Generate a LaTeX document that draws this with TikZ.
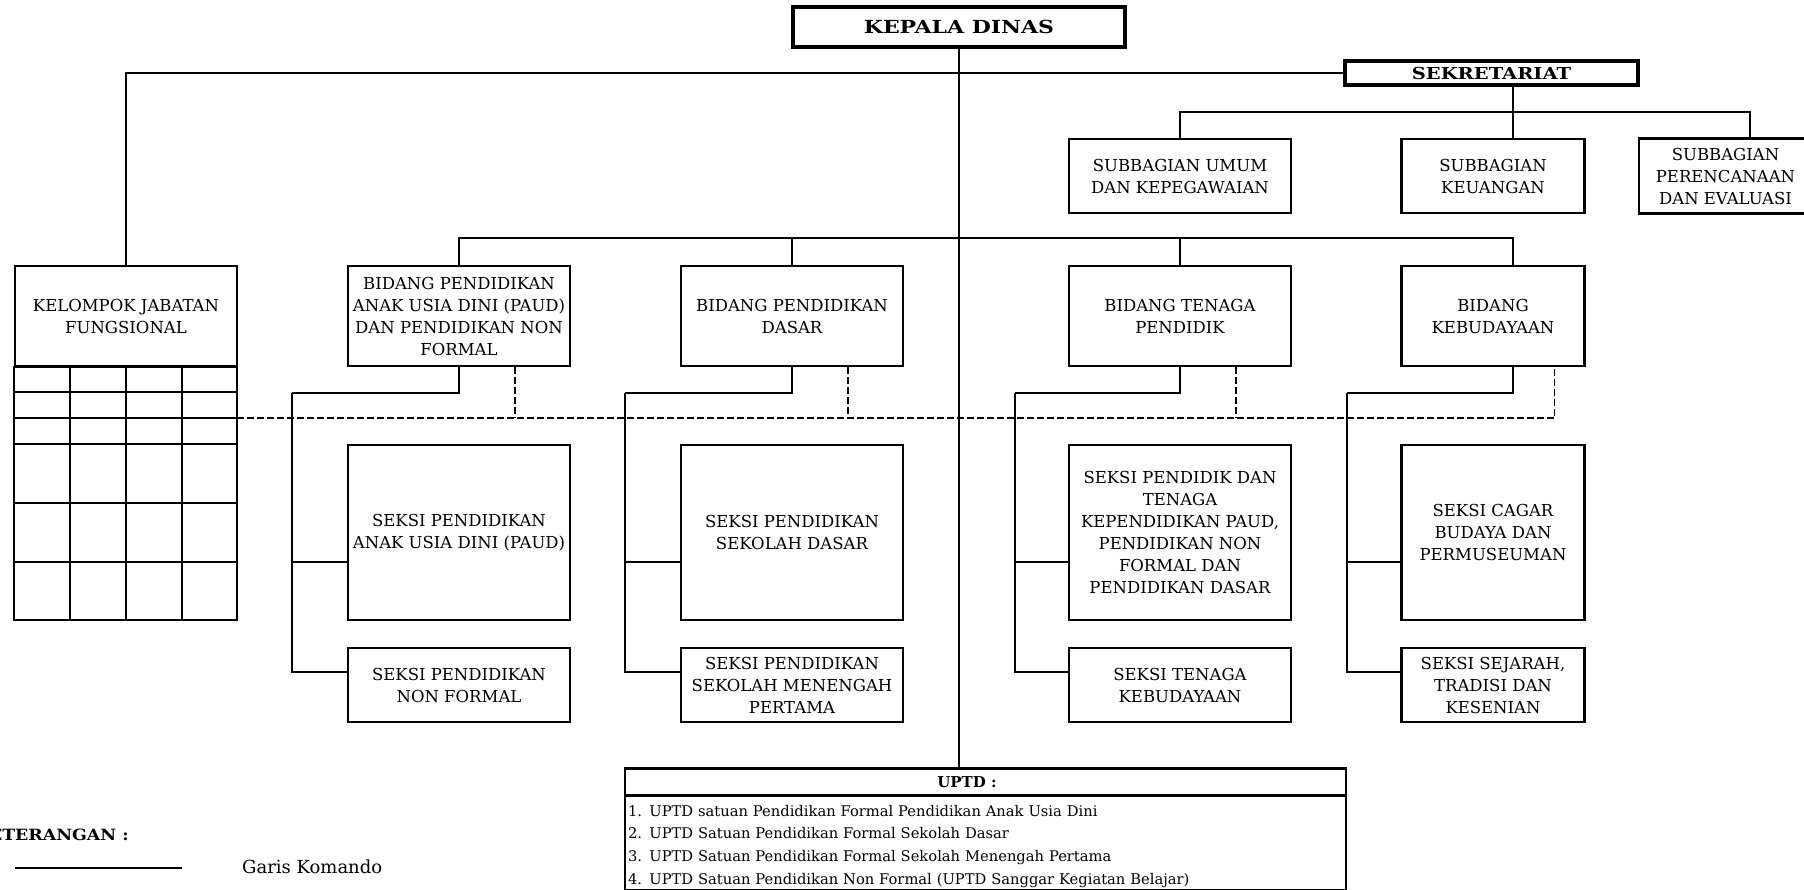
\documentclass[tikz,border=0pt]{standalone}
\usepackage{fontspec}
\setmainfont{DejaVu Serif}
\usepackage{graphicx}

\begin{document}
\begin{tikzpicture}[x=1pt, y=-1pt,
    unit/.style={draw, line width=2.2pt, align=center, inner sep=2pt, font=\fontsize{16.5}{22}\selectfont},
    head/.style={draw, line width=3.6pt, align=center, inner sep=0pt, font=\bfseries},
    link/.style={line width=2.2pt},
    staff/.style={line width=1.7pt, dash pattern=on 7pt off 3pt}]
    \useasboundingbox[fill=white] (0,0) rectangle (1804,890);

    \node[head, minimum width=332pt, minimum height=40pt, font=\fontsize{18}{20}\selectfont\bfseries] (kepala) at (959,27) {\scalebox{1.22}[1]{KEPALA DINAS}};
    \node[head, minimum width=293pt, minimum height=24pt, font=\fontsize{16.5}{18}\selectfont\bfseries] (sekret) at (1491.5,73) {\scalebox{1.18}[1]{SEKRETARIAT}};

    \node[unit, minimum width=222pt, minimum height=74pt] (umum) at (1180,176) {SUBBAGIAN UMUM\\DAN KEPEGAWAIAN};
    \node[unit, minimum width=183pt, minimum height=74pt] (keu) at (1493,176) {SUBBAGIAN\\KEUANGAN};
    \node[unit, minimum width=173pt, minimum height=75pt] (renc) at (1725.5,176) {SUBBAGIAN\\PERENCANAAN\\DAN EVALUASI};

    \node[unit, minimum width=222pt, minimum height=100pt] (kel) at (126,316) {KELOMPOK JABATAN\\FUNGSIONAL};
    \node[unit, minimum width=222pt, minimum height=100pt] (bpaud) at (459,316) {BIDANG PENDIDIKAN\\ANAK USIA DINI (PAUD)\\DAN PENDIDIKAN NON\\FORMAL};
    \node[unit, minimum width=222pt, minimum height=100pt] (bdasar) at (792,316) {BIDANG PENDIDIKAN\\DASAR};
    \node[unit, minimum width=222pt, minimum height=100pt] (btenaga) at (1180,316) {BIDANG TENAGA\\PENDIDIK};
    \node[unit, minimum width=183pt, minimum height=100pt] (bbud) at (1493,316) {BIDANG\\KEBUDAYAAN};

    \node[unit, minimum width=222pt, minimum height=175pt] (spaud) at (459,532.5) {SEKSI PENDIDIKAN\\ANAK USIA DINI (PAUD)};
    \node[unit, minimum width=222pt, minimum height=74pt] (snf) at (459,685) {SEKSI PENDIDIKAN\\NON FORMAL};
    \node[unit, minimum width=222pt, minimum height=175pt] (ssd) at (792,532.5) {SEKSI PENDIDIKAN\\SEKOLAH DASAR};
    \node[unit, minimum width=222pt, minimum height=74pt] (ssmp) at (792,685) {SEKSI PENDIDIKAN\\SEKOLAH MENENGAH\\PERTAMA};
    \node[unit, minimum width=222pt, minimum height=175pt] (sptk) at (1180,532.5) {SEKSI PENDIDIK DAN\\TENAGA\\KEPENDIDIKAN PAUD,\\PENDIDIKAN NON\\FORMAL DAN\\PENDIDIKAN DASAR};
    \node[unit, minimum width=222pt, minimum height=74pt] (stk) at (1180,685) {SEKSI TENAGA\\KEBUDAYAAN};
    \node[unit, minimum width=183pt, minimum height=175pt] (scagar) at (1493,532.5) {SEKSI CAGAR\\BUDAYA DAN\\PERMUSEUMAN};
    \node[unit, minimum width=183pt, minimum height=74pt] (ssej) at (1493,685) {SEKSI SEJARAH,\\TRADISI DAN\\KESENIAN};

    \node[unit, minimum width=721pt, minimum height=27.5pt, inner sep=0pt, font=\fontsize{15}{18}\selectfont\bfseries] (uptdhead) at (985.5,782.25) {UPTD :\hspace*{37pt}};
    \node[unit, minimum width=721pt, minimum height=93pt, text width=715pt, text height=19pt, align=left, inner xsep=2pt, font=\fontsize{14.7}{22.8}\selectfont] (uptdlist) at (985.5,842.5) {1. UPTD satuan Pendidikan Formal Pendidikan Anak Usia Dini\\2. UPTD Satuan Pendidikan Formal Sekolah Dasar\\3. UPTD Satuan Pendidikan Formal Sekolah Menengah Pertama\\4. UPTD Satuan Pendidikan Non Formal (UPTD Sanggar Kegiatan Belajar)};

    \node[anchor=east, inner sep=0pt, font=\fontsize{15.5}{18}\selectfont\bfseries] (ket) at (129,835) {\scalebox{1.12}[1]{KETERANGAN :}};
    \node[anchor=west, inner sep=0pt, font=\fontsize{18}{20}\selectfont] (garis) at (242,867) {Garis Komando};

    \coordinate (sk) at (1513,112);
    \coordinate (rn) at (1750,112);
    \coordinate (bn) at (1513,238);
    \coordinate (k1) at (292,393);
    \coordinate (k2) at (625,393);
    \coordinate (k3) at (1014.6,393);
    \coordinate (k4) at (1347,393);
    \coordinate (d0) at (237,418);
    \coordinate (g1) at (15,868);
    \coordinate (g2) at (182,868);

    \draw[link] (kepala.south) -- (kepala.south |- uptdhead.north);
    \draw[link] (kel.north) |- (sekret.west);
    \draw[link] (sk |- sekret.south) -- (sk |- keu.north);
    \draw[link] (umum.north) |- (rn) -- (rn |- renc.north);

    \draw[link] (bpaud.north) |- (bn) -- (bn |- bbud.north);
    \draw[link] (bdasar.north) -- (bdasar.north |- bn);
    \draw[link] (btenaga.north) -- (btenaga.north |- bn);

    \draw[link] (bpaud.south) |- (k1);
    \draw[link] ([yshift=-29.5pt]spaud.west) -| (k1);
    \draw[link] ([yshift=13pt]snf.west) -| (k1);
    \draw[link] (bdasar.south) |- (k2);
    \draw[link] ([yshift=-29.5pt]ssd.west) -| (k2);
    \draw[link] ([yshift=13pt]ssmp.west) -| (k2);
    \draw[link] (btenaga.south) |- (k3);
    \draw[link] ([yshift=-29.5pt]sptk.west) -| (k3);
    \draw[link] ([yshift=13pt]stk.west) -| (k3);
    \draw[link] ([xshift=20pt]bbud.south) |- (k4);
    \draw[link] ([yshift=-29.5pt]scagar.west) -| (k4);
    \draw[link] ([yshift=13pt]ssej.west) -| (k4);

    \draw[link] (kel.south west) rectangle (237,620);
    \foreach \gy in {392,418,444,503,562}
        \draw[link] (15,\gy) -- (237,\gy);
    \foreach \gx in {70,126,181.7}
        \draw[link] (\gx,366) -- (\gx,620);

    \draw[staff] (d0) -| ([xshift=-31pt]bbud.south east);
    \draw[staff] ([xshift=-56pt]bpaud.south east) -- ([xshift=-56pt]bpaud.south east |- d0);
    \draw[staff] ([xshift=-56pt]bdasar.south east) -- ([xshift=-56pt]bdasar.south east |- d0);
    \draw[staff] ([xshift=-56pt]btenaga.south east) -- ([xshift=-56pt]btenaga.south east |- d0);

    \draw[link] (g1) -- (g2);
\end{tikzpicture}
\end{document}
